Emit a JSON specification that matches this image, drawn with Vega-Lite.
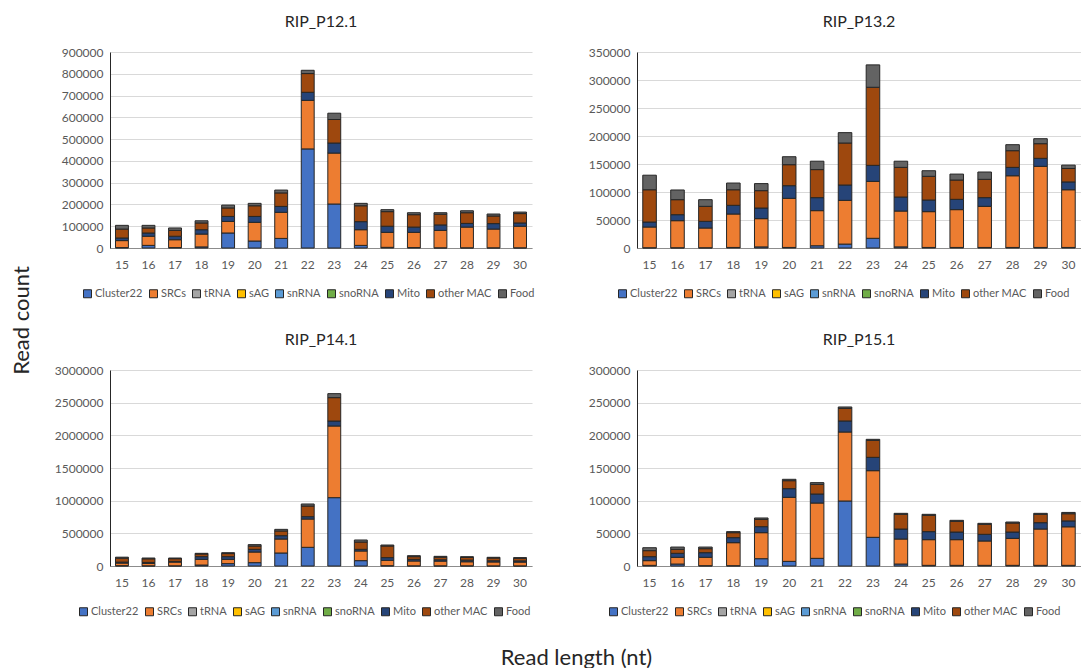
{
  "$schema": "https://vega.github.io/schema/vega-lite/v6.json",
  "padding": {"left": 10, "top": 14, "right": 0, "bottom": 0},
  "autosize": {"type": "pad"},
  "bounds": "flush",
  "spacing": 318,
  "background": "white",
  "config": {
    "font": "Lato",
    "view": {"stroke": null},
    "axis": {"labelFont": "Lato", "labelColor": "#595959", "labelFontSize": 12, "ticks": false, "titleFont": "Lato", "titleColor": "#262626", "titleFontWeight": "normal", "titleFontSize": 22},
    "axisY": {"gridColor": "#D9D9D9", "domainColor": "#262626", "labelPadding": 7},
    "axisX": {"grid": false, "domainColor": "#8C8C8C", "labelPadding": 11, "labelAngle": 0},
    "title": {"font": "Lato", "fontSize": 16, "fontWeight": "normal", "color": "#262626", "offset": 16},
    "legend": {"orient": "none", "direction": "horizontal", "columns": 9, "title": null, "symbolType": "square", "symbolSize": 64, "symbolStrokeColor": "#262626", "symbolStrokeWidth": 1, "labelFont": "Lato", "labelFontSize": 11, "labelColor": "#595959", "labelOffset": 2, "columnPadding": 4}
  },
  "datasets": {
    "d": [
      {"s": "RIP_P12.1", "len": 15, "Cluster22": 2000, "SRCs": 32000, "Mito": 12000, "other MAC": 41000, "Food": 17000},
      {"s": "RIP_P12.1", "len": 16, "Cluster22": 12000, "SRCs": 42000, "Mito": 15000, "other MAC": 23000, "Food": 12000},
      {"s": "RIP_P12.1", "len": 17, "Cluster22": 2000, "SRCs": 36000, "Mito": 16000, "other MAC": 27000, "Food": 11000},
      {"s": "RIP_P12.1", "len": 18, "Cluster22": 5000, "SRCs": 59000, "Mito": 20000, "other MAC": 31000, "Food": 10000},
      {"s": "RIP_P12.1", "len": 19, "Cluster22": 69000, "SRCs": 53000, "Mito": 23000, "other MAC": 39000, "Food": 13000},
      {"s": "RIP_P12.1", "len": 20, "Cluster22": 32000, "SRCs": 86000, "Mito": 27000, "other MAC": 49000, "Food": 11000},
      {"s": "RIP_P12.1", "len": 21, "Cluster22": 44000, "SRCs": 120000, "Mito": 27000, "other MAC": 62000, "Food": 13000},
      {"s": "RIP_P12.1", "len": 22, "Cluster22": 455000, "SRCs": 223000, "Mito": 37000, "other MAC": 86000, "Food": 15000},
      {"s": "RIP_P12.1", "len": 23, "Cluster22": 202000, "SRCs": 234000, "Mito": 46000, "other MAC": 108000, "Food": 29000},
      {"s": "RIP_P12.1", "len": 24, "Cluster22": 12000, "SRCs": 72000, "Mito": 37000, "other MAC": 73000, "Food": 11000},
      {"s": "RIP_P12.1", "len": 25, "Cluster22": 3000, "SRCs": 69000, "Mito": 28000, "other MAC": 67000, "Food": 9000},
      {"s": "RIP_P12.1", "len": 26, "Cluster22": 2000, "SRCs": 70000, "Mito": 24000, "other MAC": 57000, "Food": 9000},
      {"s": "RIP_P12.1", "len": 27, "Cluster22": 1000, "SRCs": 80000, "Mito": 25000, "other MAC": 49000, "Food": 7000},
      {"s": "RIP_P12.1", "len": 28, "Cluster22": 1000, "SRCs": 95000, "Mito": 17000, "other MAC": 49000, "Food": 9000},
      {"s": "RIP_P12.1", "len": 29, "Cluster22": 1000, "SRCs": 86000, "Mito": 25000, "other MAC": 35000, "Food": 9000},
      {"s": "RIP_P12.1", "len": 30, "Cluster22": 1000, "SRCs": 99000, "Mito": 15000, "other MAC": 43000, "Food": 7000},
      {"s": "RIP_P13.2", "len": 15, "Cluster22": 500, "SRCs": 37000, "Mito": 8900, "other MAC": 57600, "Food": 26000},
      {"s": "RIP_P13.2", "len": 16, "Cluster22": 500, "SRCs": 48300, "Mito": 10700, "other MAC": 26800, "Food": 17300},
      {"s": "RIP_P13.2", "len": 17, "Cluster22": 500, "SRCs": 35200, "Mito": 11900, "other MAC": 26800, "Food": 11900},
      {"s": "RIP_P13.2", "len": 18, "Cluster22": 1000, "SRCs": 59700, "Mito": 15500, "other MAC": 27800, "Food": 12000},
      {"s": "RIP_P13.2", "len": 19, "Cluster22": 2000, "SRCs": 50400, "Mito": 19000, "other MAC": 31000, "Food": 12600},
      {"s": "RIP_P13.2", "len": 20, "Cluster22": 1000, "SRCs": 87700, "Mito": 22600, "other MAC": 37500, "Food": 14200},
      {"s": "RIP_P13.2", "len": 21, "Cluster22": 4000, "SRCs": 62700, "Mito": 23200, "other MAC": 50100, "Food": 15000},
      {"s": "RIP_P13.2", "len": 22, "Cluster22": 7000, "SRCs": 78100, "Mito": 27400, "other MAC": 75000, "Food": 18500},
      {"s": "RIP_P13.2", "len": 23, "Cluster22": 17300, "SRCs": 101700, "Mito": 28600, "other MAC": 139400, "Food": 40000},
      {"s": "RIP_P13.2", "len": 24, "Cluster22": 2000, "SRCs": 64000, "Mito": 25000, "other MAC": 53000, "Food": 11000},
      {"s": "RIP_P13.2", "len": 25, "Cluster22": 1000, "SRCs": 63900, "Mito": 20800, "other MAC": 42300, "Food": 10000},
      {"s": "RIP_P13.2", "len": 26, "Cluster22": 1000, "SRCs": 67500, "Mito": 18400, "other MAC": 34500, "Food": 10600},
      {"s": "RIP_P13.2", "len": 27, "Cluster22": 1000, "SRCs": 73400, "Mito": 15500, "other MAC": 32700, "Food": 13100},
      {"s": "RIP_P13.2", "len": 28, "Cluster22": 1000, "SRCs": 128000, "Mito": 15000, "other MAC": 29800, "Food": 10700},
      {"s": "RIP_P13.2", "len": 29, "Cluster22": 1000, "SRCs": 144800, "Mito": 14300, "other MAC": 26200, "Food": 8900},
      {"s": "RIP_P13.2", "len": 30, "Cluster22": 1000, "SRCs": 103000, "Mito": 14000, "other MAC": 24000, "Food": 6000},
      {"s": "RIP_P14.1", "len": 15, "Cluster22": 5000, "SRCs": 40000, "Mito": 15000, "other MAC": 60000, "Food": 15000},
      {"s": "RIP_P14.1", "len": 16, "Cluster22": 3000, "SRCs": 37000, "Mito": 15000, "other MAC": 55000, "Food": 12000},
      {"s": "RIP_P14.1", "len": 17, "Cluster22": 3000, "SRCs": 57000, "Mito": 10000, "other MAC": 42000, "Food": 10000},
      {"s": "RIP_P14.1", "len": 18, "Cluster22": 15000, "SRCs": 87000, "Mito": 41000, "other MAC": 41000, "Food": 10000},
      {"s": "RIP_P14.1", "len": 19, "Cluster22": 36000, "SRCs": 66000, "Mito": 41000, "other MAC": 47000, "Food": 14000},
      {"s": "RIP_P14.1", "len": 20, "Cluster22": 51000, "SRCs": 163000, "Mito": 41000, "other MAC": 51000, "Food": 21000},
      {"s": "RIP_P14.1", "len": 21, "Cluster22": 199000, "SRCs": 214000, "Mito": 51000, "other MAC": 72000, "Food": 25000},
      {"s": "RIP_P14.1", "len": 22, "Cluster22": 286000, "SRCs": 433000, "Mito": 36000, "other MAC": 163000, "Food": 31000},
      {"s": "RIP_P14.1", "len": 23, "Cluster22": 1046000, "SRCs": 1097000, "Mito": 76000, "other MAC": 358000, "Food": 61000},
      {"s": "RIP_P14.1", "len": 24, "Cluster22": 82000, "SRCs": 148000, "Mito": 25000, "other MAC": 112000, "Food": 31000},
      {"s": "RIP_P14.1", "len": 25, "Cluster22": 5000, "SRCs": 82000, "Mito": 41000, "other MAC": 178000, "Food": 15000},
      {"s": "RIP_P14.1", "len": 26, "Cluster22": 3000, "SRCs": 74000, "Mito": 25000, "other MAC": 41000, "Food": 15000},
      {"s": "RIP_P14.1", "len": 27, "Cluster22": 3000, "SRCs": 72000, "Mito": 20000, "other MAC": 40000, "Food": 13000},
      {"s": "RIP_P14.1", "len": 28, "Cluster22": 3000, "SRCs": 62000, "Mito": 25000, "other MAC": 40000, "Food": 13000},
      {"s": "RIP_P14.1", "len": 29, "Cluster22": 2000, "SRCs": 60000, "Mito": 18000, "other MAC": 42000, "Food": 11000},
      {"s": "RIP_P14.1", "len": 30, "Cluster22": 2000, "SRCs": 58000, "Mito": 18000, "other MAC": 40000, "Food": 10000},
      {"s": "RIP_P15.1", "len": 15, "Cluster22": 1000, "SRCs": 7200, "Mito": 6100, "other MAC": 9200, "Food": 4500},
      {"s": "RIP_P15.1", "len": 16, "Cluster22": 3000, "SRCs": 10300, "Mito": 6100, "other MAC": 6100, "Food": 3500},
      {"s": "RIP_P15.1", "len": 17, "Cluster22": 500, "SRCs": 12800, "Mito": 7100, "other MAC": 6100, "Food": 2500},
      {"s": "RIP_P15.1", "len": 18, "Cluster22": 500, "SRCs": 35200, "Mito": 7700, "other MAC": 7600, "Food": 1600},
      {"s": "RIP_P15.1", "len": 19, "Cluster22": 11200, "SRCs": 39800, "Mito": 9200, "other MAC": 11200, "Food": 2100},
      {"s": "RIP_P15.1", "len": 20, "Cluster22": 7100, "SRCs": 98000, "Mito": 13300, "other MAC": 12200, "Food": 2100},
      {"s": "RIP_P15.1", "len": 21, "Cluster22": 11700, "SRCs": 84700, "Mito": 13800, "other MAC": 14800, "Food": 2600},
      {"s": "RIP_P15.1", "len": 22, "Cluster22": 99500, "SRCs": 105600, "Mito": 16900, "other MAC": 19300, "Food": 2100},
      {"s": "RIP_P15.1", "len": 23, "Cluster22": 43900, "SRCs": 102000, "Mito": 20400, "other MAC": 26000, "Food": 1600},
      {"s": "RIP_P15.1", "len": 24, "Cluster22": 3000, "SRCs": 38300, "Mito": 15300, "other MAC": 22500, "Food": 1500},
      {"s": "RIP_P15.1", "len": 25, "Cluster22": 1000, "SRCs": 39300, "Mito": 12300, "other MAC": 25000, "Food": 1500},
      {"s": "RIP_P15.1", "len": 26, "Cluster22": 1000, "SRCs": 39300, "Mito": 11700, "other MAC": 16400, "Food": 1500},
      {"s": "RIP_P15.1", "len": 27, "Cluster22": 1000, "SRCs": 37300, "Mito": 10200, "other MAC": 15300, "Food": 1500},
      {"s": "RIP_P15.1", "len": 28, "Cluster22": 1000, "SRCs": 41300, "Mito": 9700, "other MAC": 13800, "Food": 1500},
      {"s": "RIP_P15.1", "len": 29, "Cluster22": 1000, "SRCs": 55600, "Mito": 9700, "other MAC": 12800, "Food": 1500},
      {"s": "RIP_P15.1", "len": 30, "Cluster22": 1000, "SRCs": 59000, "Mito": 9000, "other MAC": 11000, "Food": 2000}
    ]
  },
  "resolve": {"scale": {"color": "independent"}, "legend": {"color": "independent"}},
  "vconcat": [
    {
      "hconcat": [
        {
          "width": 422, "height": 196,
          "title": "RIP_P12.1",
          "data": {"name": "d"},
          "transform": [
            {"filter": "datum.s === 'RIP_P12.1'"},
            {"fold": ["Cluster22", "SRCs", "Mito", "other MAC", "Food"], "as": ["category", "count"]},
            {"calculate": "indexof(['Cluster22','SRCs','tRNA','sAG','snRNA','snoRNA','Mito','other MAC','Food'], datum.category)", "as": "ord"}
          ],
          "mark": {"type": "bar", "stroke": "#262626", "strokeWidth": 1, "width": {"band": 0.54}},
          "encoding": {
            "x": {"field": "len", "type": "ordinal", "scale": {"paddingOuter": 0}, "axis": {"title": null}},
            "y": {"field": "count", "type": "quantitative", "stack": "zero", "scale": {"domain": [0, 900000]},
                  "axis": {"values": [0, 100000, 200000, 300000, 400000, 500000, 600000, 700000, 800000, 900000], "format": "d",
                           "title": "Read count", "titleX": -89, "titleY": 268, "titleAngle": -90, "titleAlign": "center", "titleBaseline": "middle"}},
            "color": {"field": "category", "type": "nominal",
                      "scale": {"domain": ["Cluster22", "SRCs", "tRNA", "sAG", "snRNA", "snoRNA", "Mito", "other MAC", "Food"],
                                "range": ["#4472C4", "#ED7D31", "#A5A5A5", "#FFC000", "#5B9BD5", "#70AD47", "#264478", "#9E480E", "#636363"]},
                      "legend": {"legendX": -28, "legendY": 236}},
            "order": {"field": "ord", "type": "quantitative", "sort": "ascending"}
          }
        },
        {
          "width": 444, "height": 196,
          "title": "RIP_P13.2",
          "data": {"name": "d"},
          "transform": [
            {"filter": "datum.s === 'RIP_P13.2'"},
            {"fold": ["Cluster22", "SRCs", "Mito", "other MAC", "Food"], "as": ["category", "count"]},
            {"calculate": "indexof(['Cluster22','SRCs','tRNA','sAG','snRNA','snoRNA','Mito','other MAC','Food'], datum.category)", "as": "ord"}
          ],
          "mark": {"type": "bar", "stroke": "#262626", "strokeWidth": 1, "width": {"band": 0.54}},
          "encoding": {
            "x": {"field": "len", "type": "ordinal", "scale": {"paddingOuter": 0}, "axis": {"title": null}},
            "y": {"field": "count", "type": "quantitative", "stack": "zero", "scale": {"domain": [0, 350000]},
                  "axis": {"values": [0, 50000, 100000, 150000, 200000, 250000, 300000, 350000], "format": "d", "title": null}},
            "color": {"field": "category", "type": "nominal",
                      "scale": {"domain": ["Cluster22", "SRCs", "tRNA", "sAG", "snRNA", "snoRNA", "Mito", "other MAC", "Food"],
                                "range": ["#4472C4", "#ED7D31", "#A5A5A5", "#FFC000", "#5B9BD5", "#70AD47", "#264478", "#9E480E", "#636363"]},
                      "legend": {"legendX": -20, "legendY": 236}},
            "order": {"field": "ord", "type": "quantitative", "sort": "ascending"}
          }
        }
      ],
      "spacing": 105,
      "bounds": "flush",
      "resolve": {"scale": {"color": "independent"}, "legend": {"color": "independent"}}
    },
    {
      "hconcat": [
        {
          "width": 422, "height": 196,
          "title": "RIP_P14.1",
          "data": {"name": "d"},
          "transform": [
            {"filter": "datum.s === 'RIP_P14.1'"},
            {"fold": ["Cluster22", "SRCs", "Mito", "other MAC", "Food"], "as": ["category", "count"]},
            {"calculate": "indexof(['Cluster22','SRCs','tRNA','sAG','snRNA','snoRNA','Mito','other MAC','Food'], datum.category)", "as": "ord"}
          ],
          "mark": {"type": "bar", "stroke": "#262626", "strokeWidth": 1, "width": {"band": 0.54}},
          "encoding": {
            "x": {"field": "len", "type": "ordinal", "scale": {"paddingOuter": 0},
                  "axis": {"title": "Read length (nt)", "titleX": 466, "titleY": 91, "titleAlign": "center", "titleBaseline": "middle"}},
            "y": {"field": "count", "type": "quantitative", "stack": "zero", "scale": {"domain": [0, 3000000]},
                  "axis": {"values": [0, 500000, 1000000, 1500000, 2000000, 2500000, 3000000], "format": "d", "title": null}},
            "color": {"field": "category", "type": "nominal",
                      "scale": {"domain": ["Cluster22", "SRCs", "tRNA", "sAG", "snRNA", "snoRNA", "Mito", "other MAC", "Food"],
                                "range": ["#4472C4", "#ED7D31", "#A5A5A5", "#FFC000", "#5B9BD5", "#70AD47", "#264478", "#9E480E", "#636363"]},
                      "legend": {"legendX": -32, "legendY": 236}},
            "order": {"field": "ord", "type": "quantitative", "sort": "ascending"}
          }
        },
        {
          "width": 444, "height": 196,
          "title": "RIP_P15.1",
          "data": {"name": "d"},
          "transform": [
            {"filter": "datum.s === 'RIP_P15.1'"},
            {"fold": ["Cluster22", "SRCs", "Mito", "other MAC", "Food"], "as": ["category", "count"]},
            {"calculate": "indexof(['Cluster22','SRCs','tRNA','sAG','snRNA','snoRNA','Mito','other MAC','Food'], datum.category)", "as": "ord"}
          ],
          "mark": {"type": "bar", "stroke": "#262626", "strokeWidth": 1, "width": {"band": 0.54}},
          "encoding": {
            "x": {"field": "len", "type": "ordinal", "scale": {"paddingOuter": 0}, "axis": {"title": null}},
            "y": {"field": "count", "type": "quantitative", "stack": "zero", "scale": {"domain": [0, 300000]},
                  "axis": {"values": [0, 50000, 100000, 150000, 200000, 250000, 300000], "format": "d", "title": null}},
            "color": {"field": "category", "type": "nominal",
                      "scale": {"domain": ["Cluster22", "SRCs", "tRNA", "sAG", "snRNA", "snoRNA", "Mito", "other MAC", "Food"],
                                "range": ["#4472C4", "#ED7D31", "#A5A5A5", "#FFC000", "#5B9BD5", "#70AD47", "#264478", "#9E480E", "#636363"]},
                      "legend": {"legendX": -29, "legendY": 236}},
            "order": {"field": "ord", "type": "quantitative", "sort": "ascending"}
          }
        }
      ],
      "spacing": 105,
      "bounds": "flush",
      "resolve": {"scale": {"color": "independent"}, "legend": {"color": "independent"}}
    }
  ]
}
